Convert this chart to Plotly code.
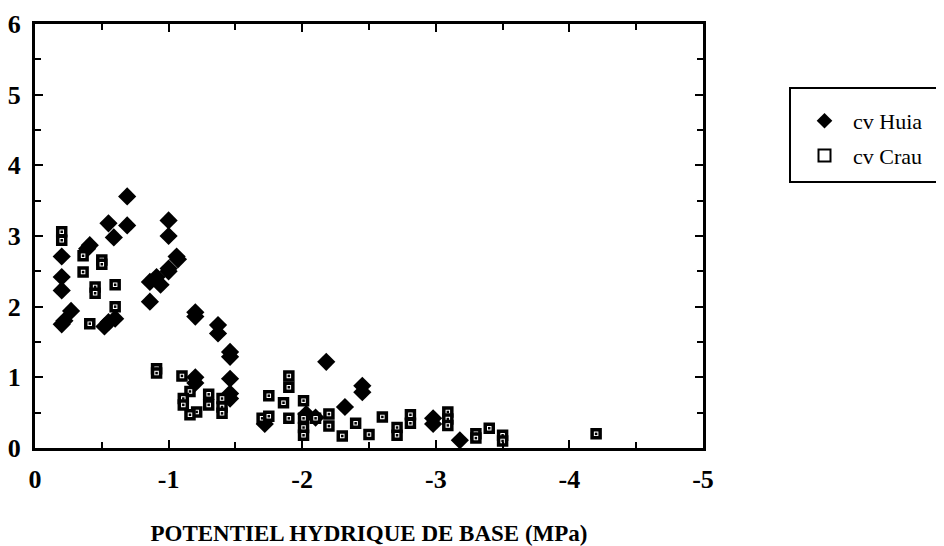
import plotly.graph_objects as go

# cv Huia (diamonds)
huia_x = [-0.2, -0.2, -0.2, -0.2, -0.22, -0.27, -0.39, -0.41, -0.52, -0.55, -0.6,
          -0.55, -0.59, -0.69, -0.69, -0.86, -0.86, -0.91, -0.94, -1.0, -1.0,
          -1.0, -1.0, -1.06, -1.07, -1.2, -1.2, -1.2, -1.2, -1.37, -1.37,
          -1.46, -1.46, -1.46, -1.46, -1.46, -1.72, -2.03, -2.1, -2.18,
          -2.32, -2.45, -2.45, -2.98, -2.98, -3.18]
huia_y = [2.71, 2.42, 2.23, 1.75, 1.80, 1.94, 2.82, 2.87, 1.72, 1.78, 1.83,
          3.18, 2.98, 3.56, 3.15, 2.07, 2.35, 2.42, 2.31, 3.22, 3.0,
          2.54, 2.5, 2.71, 2.67, 1.92, 1.86, 1.0, 0.92, 1.74, 1.62,
          1.36, 1.29, 0.98, 0.77, 0.70, 0.34, 0.48, 0.43, 1.22,
          0.58, 0.88, 0.79, 0.42, 0.34, 0.11]

# cv Crau (squares)
crau_x = [-0.2, -0.2, -0.36, -0.36, -0.5, -0.5, -0.45, -0.45, -0.6, -0.6, -0.41,
          -0.91, -0.91, -1.1, -1.16, -1.11, -1.11, -1.21, -1.16, -1.3, -1.3,
          -1.4, -1.4, -1.4, -1.75, -1.7, -1.75, -1.86, -1.9, -1.9, -1.9,
          -2.01, -2.01, -2.01, -2.01, -2.1, -2.2, -2.2, -2.3, -2.4, -2.5,
          -2.6, -2.71, -2.71, -2.81, -2.81, -3.09, -3.09, -3.09, -3.3, -3.3,
          -3.4, -3.5, -3.5, -4.2]
crau_y = [3.06, 2.94, 2.72, 2.49, 2.66, 2.6, 2.28, 2.19, 2.31, 2.0, 1.76,
          1.12, 1.06, 1.02, 0.80, 0.70, 0.61, 0.51, 0.47, 0.76, 0.61,
          0.70, 0.58, 0.49, 0.74, 0.42, 0.45, 0.64, 1.02, 0.86, 0.42,
          0.67, 0.42, 0.29, 0.18, 0.42, 0.48, 0.31, 0.17, 0.35, 0.19,
          0.44, 0.29, 0.18, 0.47, 0.35, 0.51, 0.41, 0.32, 0.2, 0.14,
          0.28, 0.18, 0.10, 0.2]

x_ticks = [0, -1, -2, -3, -4, -5]
x_ticktext = ["0", "-1", "-2", "-3", "-4", "-5"]
y_ticks = [0, 1, 2, 3, 4, 5, 6]

serif = "Liberation Serif, Times New Roman, serif"

fig = go.Figure()
fig.add_trace(go.Scatter(
    x=huia_x, y=huia_y, mode="markers", name="cv Huia", legendgroup="a",
    marker=dict(symbol="diamond", size=14, color="black", line=dict(width=0))))
fig.add_trace(go.Scatter(
    x=crau_x, y=crau_y, mode="markers", name="cv Crau", legendgroup="b",
    marker=dict(symbol="square", size=8, color="white",
                line=dict(width=3.5, color="black"))))
fig.add_trace(go.Scatter(
    x=crau_x, y=crau_y, mode="markers", name="cv Crau dot", showlegend=False,
    legendgroup="b",
    marker=dict(symbol="square", size=2.5, color="black", line=dict(width=0))))

axis_common = dict(
    showline=True, linecolor="black", linewidth=3, mirror="ticks",
    ticks="inside", ticklen=8, tickwidth=2, tickcolor="black",
    showgrid=False, zeroline=False, automargin=False,
    tickfont=dict(family=serif, size=26, color="black", weight="bold"),
)

fig.update_xaxes(range=[0, -5], tickvals=x_ticks, ticktext=x_ticktext,
                 ticklabelstandoff=6,
                 minor=dict(dtick=0.5, ticks="inside", ticklen=6, tickwidth=2,
                            tickcolor="black"),
                 title=dict(text="POTENTIEL HYDRIQUE DE BASE (MPa)",
                            font=dict(family=serif, size=23, color="black", weight="bold"),
                            standoff=40),
                 **axis_common)
fig.update_yaxes(range=[0, 6], tickvals=y_ticks, ticklabelstandoff=6,
                 minor=dict(dtick=0.5, ticks="inside", ticklen=6, tickwidth=2,
                            tickcolor="black"),
                 **axis_common)

# page body has an 8px margin, so the figure is offset by 8px
PW, PH = 668, 424
L, T = 27, 16


def px_x(p):
    return (p - 8 - L) / PW


def px_y(p):
    return (PH - (p - 8 - T)) / PH


# legend frame (extends past the right edge like the reference)
fig.add_shape(type="rect", xref="paper", yref="paper",
              x0=px_x(790), x1=1.5, y0=px_y(182), y1=px_y(88),
              line=dict(color="black", width=2), fillcolor="white", layer="below")

fig.update_layout(
    width=936, height=538,
    margin=dict(l=L, r=936 - L - PW, t=T, b=538 - T - PH),
    plot_bgcolor="white", paper_bgcolor="white",
    showlegend=True,
    legend=dict(x=px_x(796), y=px_y(100), xanchor="left", yanchor="top",
                borderwidth=0, bgcolor="rgba(0,0,0,0)",
                font=dict(family=serif, size=22, color="black"),
                itemsizing="constant", itemwidth=47,
                tracegroupgap=3, traceorder="grouped"),
)

fig.write_html("out.html")
